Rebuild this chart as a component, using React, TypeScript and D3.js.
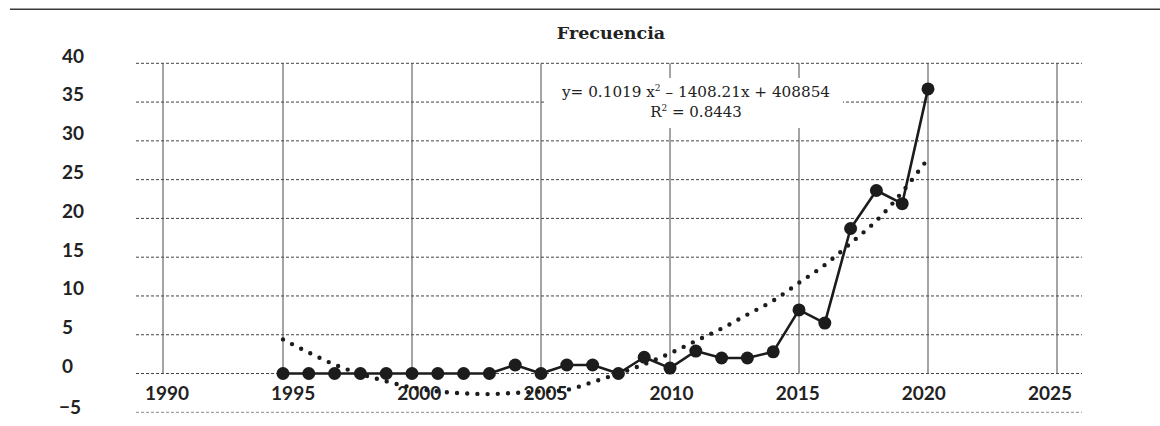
import React from "react";
import * as d3 from "d3";

const title = "Frecuencia";
const years = [1995, 1996, 1997, 1998, 1999, 2000, 2001, 2002, 2003, 2004, 2005, 2006, 2007, 2008, 2009, 2010, 2011, 2012, 2013, 2014, 2015, 2016, 2017, 2018, 2019, 2020];
const frecuencia = [0, 0, 0, 0, 0, 0, 0, 0, 0, 1.1, 0, 1.1, 1.1, 0, 2.1, 0.7, 2.9, 2.0, 2.0, 2.8, 8.2, 6.5, 18.7, 23.6, 21.9, 36.7];
const tendencia = [4.4, 2.7, 1.15, -0.05, -1.0, -1.8, -2.3, -2.55, -2.65, -2.5, -2.3, -2.1, -1.1, 0.0, 1.2, 2.6, 4.2, 5.8, 7.6, 9.4, 11.7, 14.0, 16.8, 19.7, 23.4, 27.7];
const yTicks = [40, 35, 30, 25, 20, 15, 10, 5, 0, -5];
const xTicks = [1990, 1995, 2000, 2005, 2010, 2015, 2020, 2025];
const eqLine1 = ["y= 0.1019 x", "2", " – 1408.21x + 408854"];
const eqLine2 = ["R", "2", " = 0.8443"];

export default function App() {
  const W = 1160, H = 426;
  const x = d3.scaleLinear().domain([1990, 1995, 2025]).range([163, 283, 1057]);
  const xLabel = d3.scaleLinear().domain([1990, 2025]).range([167, 1050]);
  const y = d3.scaleLinear().domain([-5, 40]).range([412.3, 63.3]);
  const gridX0 = 136, gridX1 = 1082;
  const ink = "#1c1c1c";

  const dataLine = d3.line<number>().x((_, i) => x(years[i])).y((d) => y(d))(frecuencia) || "";
  const trendLine = d3
    .line<number>()
    .x((_, i) => x(years[i]))
    .y((d) => y(d))
    .curve(d3.curveCatmullRom)(tendencia) || "";

  const labelFont = "Lato, 'Open Sans', sans-serif";

  return (
    <svg width={W} height={H} style={{ position: "absolute", left: 0, top: 0, background: "#fff" }}>
      <rect x={0} y={0} width={W} height={H} fill="#fff" />
      <line x1={10} x2={W} y1={9.3} y2={9.3} stroke="#3a3a3a" strokeWidth={1.6} />
      <text x={611} y={38.7} textAnchor="middle" fontFamily="'DejaVu Serif', serif" fontWeight={700} fontSize={17.5} fill="#222">
        {title}
      </text>

      {/* horizontal dashed grid */}
      {yTicks.map((t) => (
        <line
          key={"h" + t}
          x1={gridX0}
          x2={gridX1}
          y1={y(t)}
          y2={y(t)}
          stroke={t === -5 ? "#8a8a8a" : "#444"}
          strokeWidth={1}
          strokeDasharray="3,2"
        />
      ))}
      {/* vertical solid grid */}
      {xTicks.map((t) => (
        <line key={"v" + t} x1={x(t)} x2={x(t)} y1={y(40)} y2={y(0)} stroke="#4a4a4a" strokeWidth={1} />
      ))}

      {/* y labels */}
      {yTicks.map((t) => (
        <text
          key={"yl" + t}
          x={t < 0 ? 59 : 62}
          y={y(t) - (t < 0 ? 3 : 5.5)}
          dominantBaseline="middle"
          fontFamily={labelFont}
          fontWeight={700}
          fontSize={19}
          fill="#222"
        >
          {t < 0 ? "\u2212" + Math.abs(t) : t}
        </text>
      ))}
      {/* x labels */}
      {xTicks.map((t) => (
        <text
          key={"xl" + t}
          x={xLabel(t)}
          y={399.5}
          textAnchor="middle"
          fontFamily={labelFont}
          fontWeight={700}
          fontSize={19}
          fill="#222"
        >
          {t}
        </text>
      ))}

      {/* equation box */}
      <rect x={544} y={78} width={299} height={50} fill="#fff" />
      <text x={696} y={97.3} textAnchor="middle" fontFamily="'DejaVu Serif', serif" fontSize={15} fill="#222" textLength={268} lengthAdjust="spacingAndGlyphs">
        <tspan>{eqLine1[0]}</tspan>
        <tspan fontSize={9} dy={-6}>{eqLine1[1]}</tspan>
        <tspan dy={6}>{eqLine1[2]}</tspan>
      </text>
      <text x={696} y={117.3} textAnchor="middle" fontFamily="'DejaVu Serif', serif" fontSize={15} fill="#222">
        <tspan>{eqLine2[0]}</tspan>
        <tspan fontSize={9} dy={-6}>{eqLine2[1]}</tspan>
        <tspan dy={6}>{eqLine2[2]}</tspan>
      </text>

      {/* data series */}
      <path d={dataLine} fill="none" stroke={ink} strokeWidth={2.6} strokeLinejoin="round" />
      {frecuencia.map((v, i) => (
        <circle key={"c" + i} cx={x(years[i])} cy={y(v)} r={6.5} fill={ink} />
      ))}

      {/* polynomial trend (dotted) */}
      <path
        d={trendLine}
        fill="none"
        stroke={ink}
        strokeWidth={4.4}
        strokeLinecap="round"
        strokeDasharray="0,10.2"
      />
    </svg>
  );
}
